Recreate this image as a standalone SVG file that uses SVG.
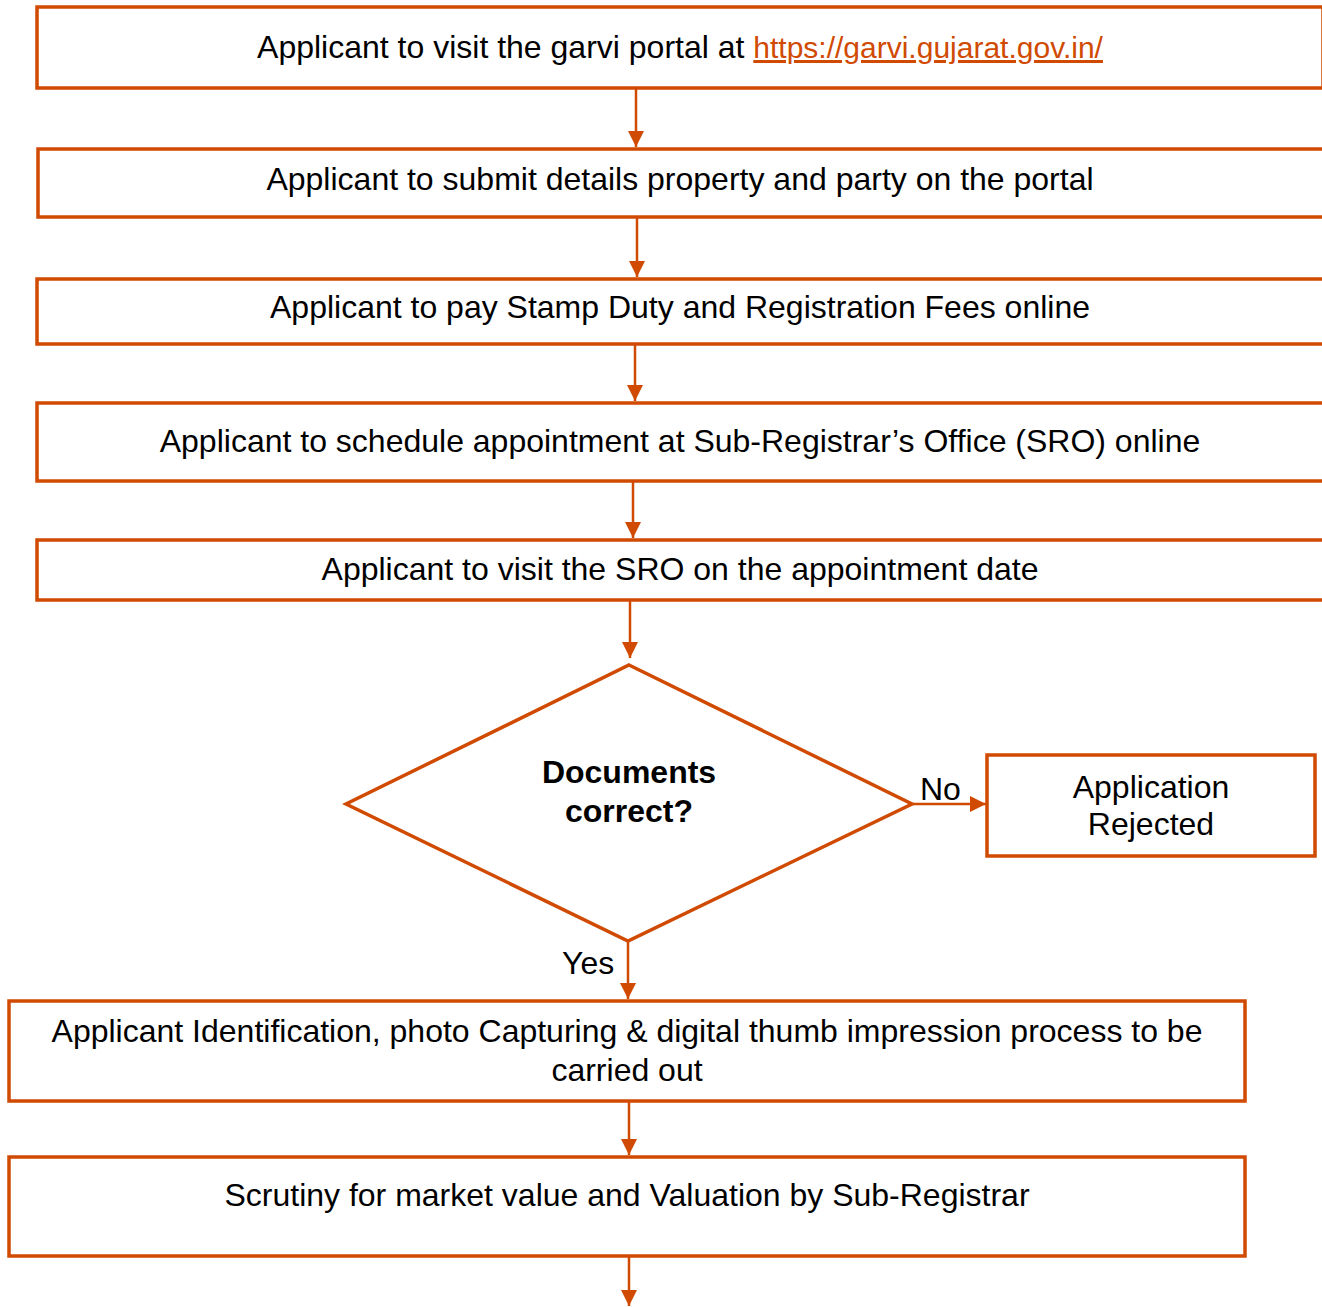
<svg xmlns="http://www.w3.org/2000/svg" width="1322" height="1307" viewBox="0 0 1322 1307">
<style>
.box{fill:#fff;stroke:#D04A02;stroke-width:3.5}
.t{font-family:"Liberation Sans",Arial,sans-serif;font-size:32px;fill:#000;text-anchor:middle}
.b{font-weight:bold}
.lbl{font-family:"Liberation Sans",Arial,sans-serif;font-size:32px;fill:#000}
.link{fill:#D04A02;text-decoration:underline;font-size:30px}
.c{stroke:#D04A02;stroke-width:2.5;fill:none}
</style>
<defs>
<marker id="ah" markerUnits="userSpaceOnUse" markerWidth="16" markerHeight="16" viewBox="0 0 16 16" refX="16" refY="8" orient="auto">
<path d="M0,0 L16,8 L0,16 Z" fill="#D04A02"/>
</marker>
</defs>
<rect width="1322" height="1307" fill="#fff"/>
<g id="connectors">
<line class="c" x1="636" y1="89" x2="636" y2="147" marker-end="url(#ah)"/>
<line class="c" x1="637" y1="218" x2="637" y2="277" marker-end="url(#ah)"/>
<line class="c" x1="635" y1="345" x2="635" y2="401" marker-end="url(#ah)"/>
<line class="c" x1="633" y1="482" x2="633" y2="538" marker-end="url(#ah)"/>
<line class="c" x1="630" y1="601" x2="630" y2="658" marker-end="url(#ah)"/>
<line class="c" x1="912" y1="804" x2="986" y2="804" marker-end="url(#ah)"/>
<line class="c" x1="628" y1="941" x2="628" y2="999" marker-end="url(#ah)"/>
<line class="c" x1="629" y1="1102" x2="629" y2="1155" marker-end="url(#ah)"/>
<line class="c" x1="629" y1="1257" x2="629" y2="1306" marker-end="url(#ah)"/>
<text class="lbl" x="920" y="800">No</text>
<text class="lbl" x="562" y="974">Yes</text>
</g>
<g id="n1">
<rect class="box" x="37" y="7" width="1286" height="81"/>
<text class="t" x="680" y="58">Applicant to visit the garvi portal at <tspan class="link">https://garvi.gujarat.gov.in/</tspan></text>
</g>
<g id="n2">
<rect class="box" x="38" y="149" width="1300" height="68"/>
<text class="t" x="680" y="190">Applicant to submit details property and party on the portal</text>
</g>
<g id="n3">
<rect class="box" x="37" y="279" width="1300" height="65"/>
<text class="t" x="680" y="318">Applicant to pay Stamp Duty and Registration Fees online</text>
</g>
<g id="n4">
<rect class="box" x="37" y="403" width="1300" height="78"/>
<text class="t" x="680" y="452">Applicant to schedule appointment at Sub-Registrar’s Office (SRO) online</text>
</g>
<g id="n5">
<rect class="box" x="37" y="540" width="1300" height="60"/>
<text class="t" x="680" y="580">Applicant to visit the SRO on the appointment date</text>
</g>
<g id="n6">
<polygon class="box" points="629,665 912,804 628,941 346,804"/>
<text class="t b" x="629" y="783">Documents</text>
<text class="t b" x="629" y="822">correct?</text>
</g>
<g id="n7">
<rect class="box" x="987" y="755" width="328" height="101"/>
<text class="t" x="1151" y="798">Application</text>
<text class="t" x="1151" y="835">Rejected</text>
</g>
<g id="n8">
<rect class="box" x="9" y="1001" width="1236" height="100"/>
<text class="t" x="627" y="1042">Applicant Identification, photo Capturing &amp; digital thumb impression process to be</text>
<text class="t" x="627" y="1081">carried out</text>
</g>
<g id="n9">
<rect class="box" x="9" y="1157" width="1236" height="99"/>
<text class="t" x="627" y="1206">Scrutiny for market value and Valuation by Sub-Registrar</text>
</g>
</svg>
